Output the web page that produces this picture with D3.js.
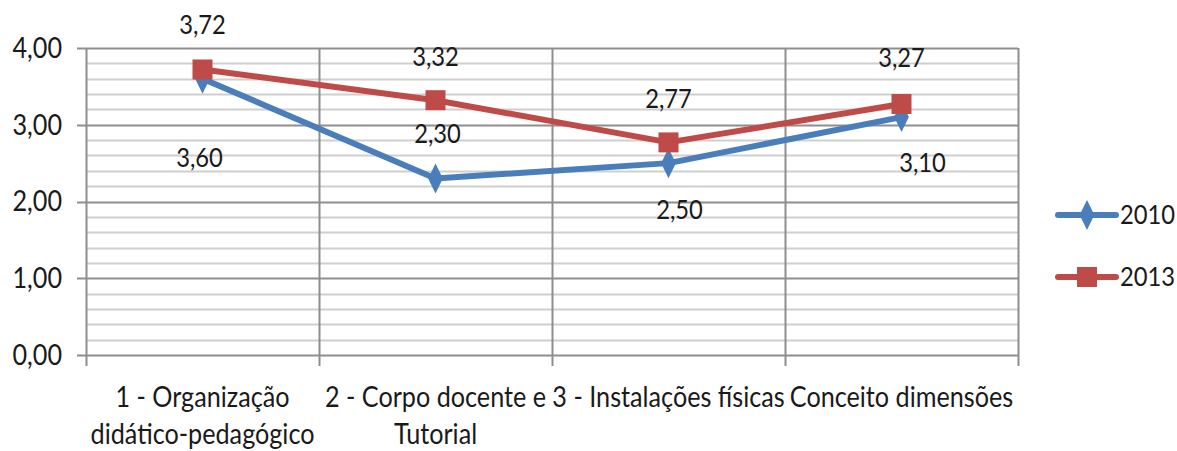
<!DOCTYPE html>
<html>
<head>
<meta charset="utf-8">
<script src="https://cdnjs.cloudflare.com/ajax/libs/d3/7.8.5/d3.min.js"></script>
<style>
    body { margin: 0; background: #fff; }
    svg text { font-family: Lato, "Liberation Sans", sans-serif; fill: #1a1a1a; }
</style>
</head>
<body>
<div id="chart"></div>
<script>
    // data
    const categories = [
        ["1 - Organização", "didático-pedagógico"],
        ["2 - Corpo docente e", "Tutorial"],
        ["3 - Instalações físicas"],
        ["Conceito dimensões"]
    ];
    const series2010 = [3.60, 2.30, 2.50, 3.10];
    const series2013 = [3.72, 3.32, 2.77, 3.27];
    const seriesNames = ["2010", "2013"];
    const yTicks = [0, 1, 2, 3, 4];

    // label placement tweaks (like the hand-moved labels in the original)
    const dy2010 = [79, -45, 46, 45];
    const dx2010 = [-3, 2, 11, 21];
    const dy2013 = [-45, -44, -44, -46];

    const width = 1177, height = 451;
    const margin = { top: 48, right: 159, bottom: 96, left: 86 };
    const fontSize = 27;
    const squeeze = 0.88;   // narrow the font a bit, the original is Calibri

    const svg = d3.select("#chart").append("svg")
        .attr("width", width)
        .attr("height", height);

    const x = d3.scaleBand()
        .domain(d3.range(categories.length))
        .range([margin.left, width - margin.right])
        .padding(0);

    const y = d3.scaleLinear()
        .domain([0, 4])
        .range([height - margin.bottom, margin.top]);

    const fmt = v => d3.format(".2f")(v).replace(".", ",");
    const at = (px, py, s = squeeze) => `translate(${px},${py}) scale(${s},1)`;

    // minor gridlines every 0.2
    const minor = d3.range(0, 4.001, 0.2).filter(v => Math.abs(v - Math.round(v)) > 1e-6);
    svg.append("g").selectAll("line").data(minor).join("line")
        .attr("x1", x.range()[0]).attr("x2", x.range()[1])
        .attr("y1", d => Math.round(y(d)) + 0.5).attr("y2", d => Math.round(y(d)) + 0.5)
        .attr("stroke", "#cfcfcf").attr("stroke-width", 2);

    // major gridlines
    svg.append("g").selectAll("line").data(yTicks).join("line")
        .attr("x1", x.range()[0] - 9).attr("x2", x.range()[1])
        .attr("y1", d => Math.round(y(d)) + 0.5).attr("y2", d => Math.round(y(d)) + 0.5)
        .attr("stroke", "#8e8e8e").attr("stroke-width", 2);

    // vertical gridlines at category boundaries
    const bounds = d3.range(categories.length + 1).map(i => x.range()[0] + i * x.bandwidth());
    svg.append("g").selectAll("line").data(bounds).join("line")
        .attr("x1", d => Math.round(d) + 0.5).attr("x2", d => Math.round(d) + 0.5)
        .attr("y1", y(4)).attr("y2", y(0) + 11)
        .attr("stroke", "#8e8e8e").attr("stroke-width", 2);

    // y axis labels
    svg.append("g").selectAll("text").data(yTicks).join("text")
        .attr("transform", d => at(62, y(d), 0.9))
        .attr("dy", "0.35em")
        .attr("text-anchor", "end")
        .attr("font-size", 28)
        .text(fmt);

    // category labels
    const cat = svg.append("g").selectAll("text").data(categories).join("text")
        .attr("text-anchor", "middle")
        .attr("font-size", 28)
        .attr("transform", (d, i) => at(x(i) + x.bandwidth() / 2, 407, 0.9));
    cat.selectAll("tspan").data(d => d).join("tspan")
        .attr("x", 0)
        .attr("y", (d, i) => i * 37)
        .text(d => d);

    const cx = i => x(i) + x.bandwidth() / 2;
    const line = d3.line().x((d, i) => cx(i)).y(d => y(d));

    const colors = ["#4a7ebb", "#be4b48"];

    // 2010 series
    svg.append("path").datum(series2010)
        .attr("d", line).attr("fill", "none")
        .attr("stroke", colors[0]).attr("stroke-width", 6).attr("stroke-linejoin", "round");
    svg.append("g").selectAll("path").data(series2010).join("path")
        .attr("d", d3.symbol(d3.symbolDiamond, 260))
        .attr("transform", (d, i) => `translate(${cx(i)},${y(d)}) scale(0.85,1)`)
        .attr("fill", colors[0]);

    // 2013 series
    svg.append("path").datum(series2013)
        .attr("d", line).attr("fill", "none")
        .attr("stroke", colors[1]).attr("stroke-width", 6).attr("stroke-linejoin", "round");
    svg.append("g").selectAll("rect").data(series2013).join("rect")
        .attr("x", (d, i) => cx(i) - 10).attr("y", d => y(d) - 10)
        .attr("width", 20).attr("height", 20)
        .attr("fill", colors[1]);

    // value labels
    svg.append("g").selectAll("text").data(series2010).join("text")
        .attr("transform", (d, i) => at(cx(i) + dx2010[i], y(d) + dy2010[i]))
        .attr("dy", "0.35em")
        .attr("text-anchor", "middle")
        .attr("font-size", fontSize)
        .text(fmt);
    svg.append("g").selectAll("text").data(series2013).join("text")
        .attr("transform", (d, i) => at(cx(i), y(d) + dy2013[i]))
        .attr("dy", "0.35em")
        .attr("text-anchor", "middle")
        .attr("font-size", fontSize)
        .text(fmt);

    // legend
    const legend = svg.append("g").selectAll("g").data(seriesNames).join("g")
        .attr("transform", (d, i) => `translate(1058,${215 + i * 62})`);
    legend.append("line")
        .attr("x1", 0).attr("x2", 58)
        .attr("stroke", (d, i) => colors[i]).attr("stroke-width", 6).attr("stroke-linecap", "round");
    legend.append("path")
        .attr("d", (d, i) => i === 0
            ? d3.symbol(d3.symbolDiamond, 260)()
            : d3.symbol(d3.symbolSquare, 400)())
        .attr("transform", (d, i) => `translate(29,0) scale(${i === 0 ? 0.85 : 1},1)`)
        .attr("fill", (d, i) => colors[i]);
    legend.append("text")
        .attr("transform", at(62, 0))
        .attr("dy", "0.35em")
        .attr("font-size", fontSize)
        .text(d => d);
</script>
</body>
</html>
